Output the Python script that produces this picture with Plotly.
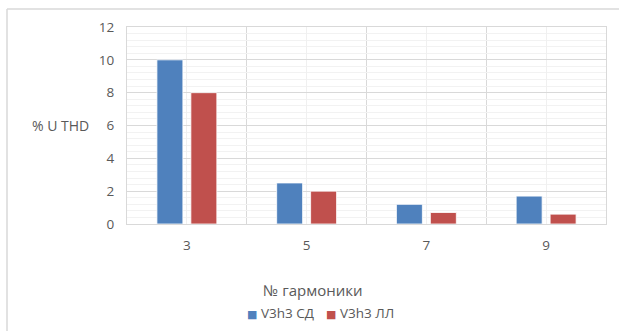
import plotly.graph_objects as go

categories = ["3", "5", "7", "9"]
series_sd = [10, 2.5, 1.2, 1.7]
series_ll = [8, 2.0, 0.7, 0.6]
series_names = ["V3h3 СД", "V3h3 ЛЛ"]
series_colors = ["#4F81BD", "#C0504D"]
y_ticks = [0, 2, 4, 6, 8, 10, 12]

W, H = 619, 331
L, R, T, B = 127, 13, 27, 107
PW, PH = W - L - R, H - T - B
FONT = "Open Sans"
GRAY = "#595959"

xpos = list(range(len(categories)))

fig = go.Figure()
for vals, name, col in zip([series_sd, series_ll], series_names, series_colors):
    fig.add_trace(go.Bar(x=xpos, y=vals, name=name,
                         marker=dict(color=col, line=dict(color="#ffffff", width=0.8))))

fig.update_layout(
    width=W, height=H,
    margin=dict(l=L, r=R, t=T, b=B, autoexpand=False),
    paper_bgcolor="white", plot_bgcolor="white",
    barmode="group", bargap=0.433, bargroupgap=0.235,
    font=dict(family=FONT, size=13, color=GRAY),
    showlegend=False,
)

fig.update_xaxes(
    range=[-0.5, len(categories) - 0.5],
    tickmode="array", tickvals=xpos, ticktext=categories,
    showgrid=True, gridcolor="#f0f0f0", gridwidth=1,
    minor=dict(tickmode="array", tickvals=[i + 0.5 for i in xpos[:-1]],
               showgrid=True, gridcolor="#d9d9d9", gridwidth=1, ticks=""),
    showline=True, linecolor="#d9d9d9", linewidth=1, mirror=True,
    ticks="", ticklabelstandoff=9, zeroline=False,
    tickfont=dict(size=13.5, color=GRAY),
)
fig.update_yaxes(
    range=[0, 12], tickmode="array", tickvals=y_ticks,
    showgrid=True, gridcolor="#d9d9d9", gridwidth=1,
    minor=dict(dtick=0.4, tick0=0, showgrid=True, gridcolor="#f2f2f2", gridwidth=1, ticks=""),
    showline=True, linecolor="#d9d9d9", linewidth=1, mirror=True,
    ticks="", ticklabelstandoff=9, zeroline=False,
    tickfont=dict(size=13.5, color=GRAY),
)

# y-axis title (horizontal) and x-axis title
fig.add_annotation(text="% U THD", xref="paper", yref="paper",
                   x=-(L - 91) / PW, xanchor="right", y=0.5, yanchor="middle",
                   showarrow=False, font=dict(size=14, color=GRAY))
fig.add_annotation(text="№ гармоники", xref="paper", yref="paper",
                   x=(313 - L) / PW, xanchor="center",
                   y=-(290 - (H - B)) / PH, yanchor="middle",
                   showarrow=False, font=dict(size=15, color=GRAY))

# legend as text entries with coloured square glyphs
for lx, name, col in zip([245, 324], series_names, series_colors):
    fig.add_annotation(
        text=f"<span style='color:{col};font-family:DejaVu Sans;font-size:11px'>■</span> {name}",
        xref="paper", yref="paper", x=(lx - L) / PW, xanchor="left",
        y=-(313 - (H - B)) / PH, yanchor="middle",
        showarrow=False, font=dict(size=13.5, color=GRAY))

# outer chart frame (left and top edges visible)
fig.add_shape(type="line", xref="paper", yref="paper",
              x0=-(L - 7) / PW, x1=-(L - 7) / PW,
              y0=1 + (T - 9) / PH, y1=-(B + 5) / PH,
              line=dict(color="#d9d9d9", width=1.5))
fig.add_shape(type="line", xref="paper", yref="paper",
              x0=-(L - 7) / PW, x1=1 + (R + 5) / PW,
              y0=1 + (T - 9) / PH, y1=1 + (T - 9) / PH,
              line=dict(color="#d9d9d9", width=1.5))

fig.write_html("out.html", config={"displayModeBar": False},
               post_script="document.body.style.margin='0';")
